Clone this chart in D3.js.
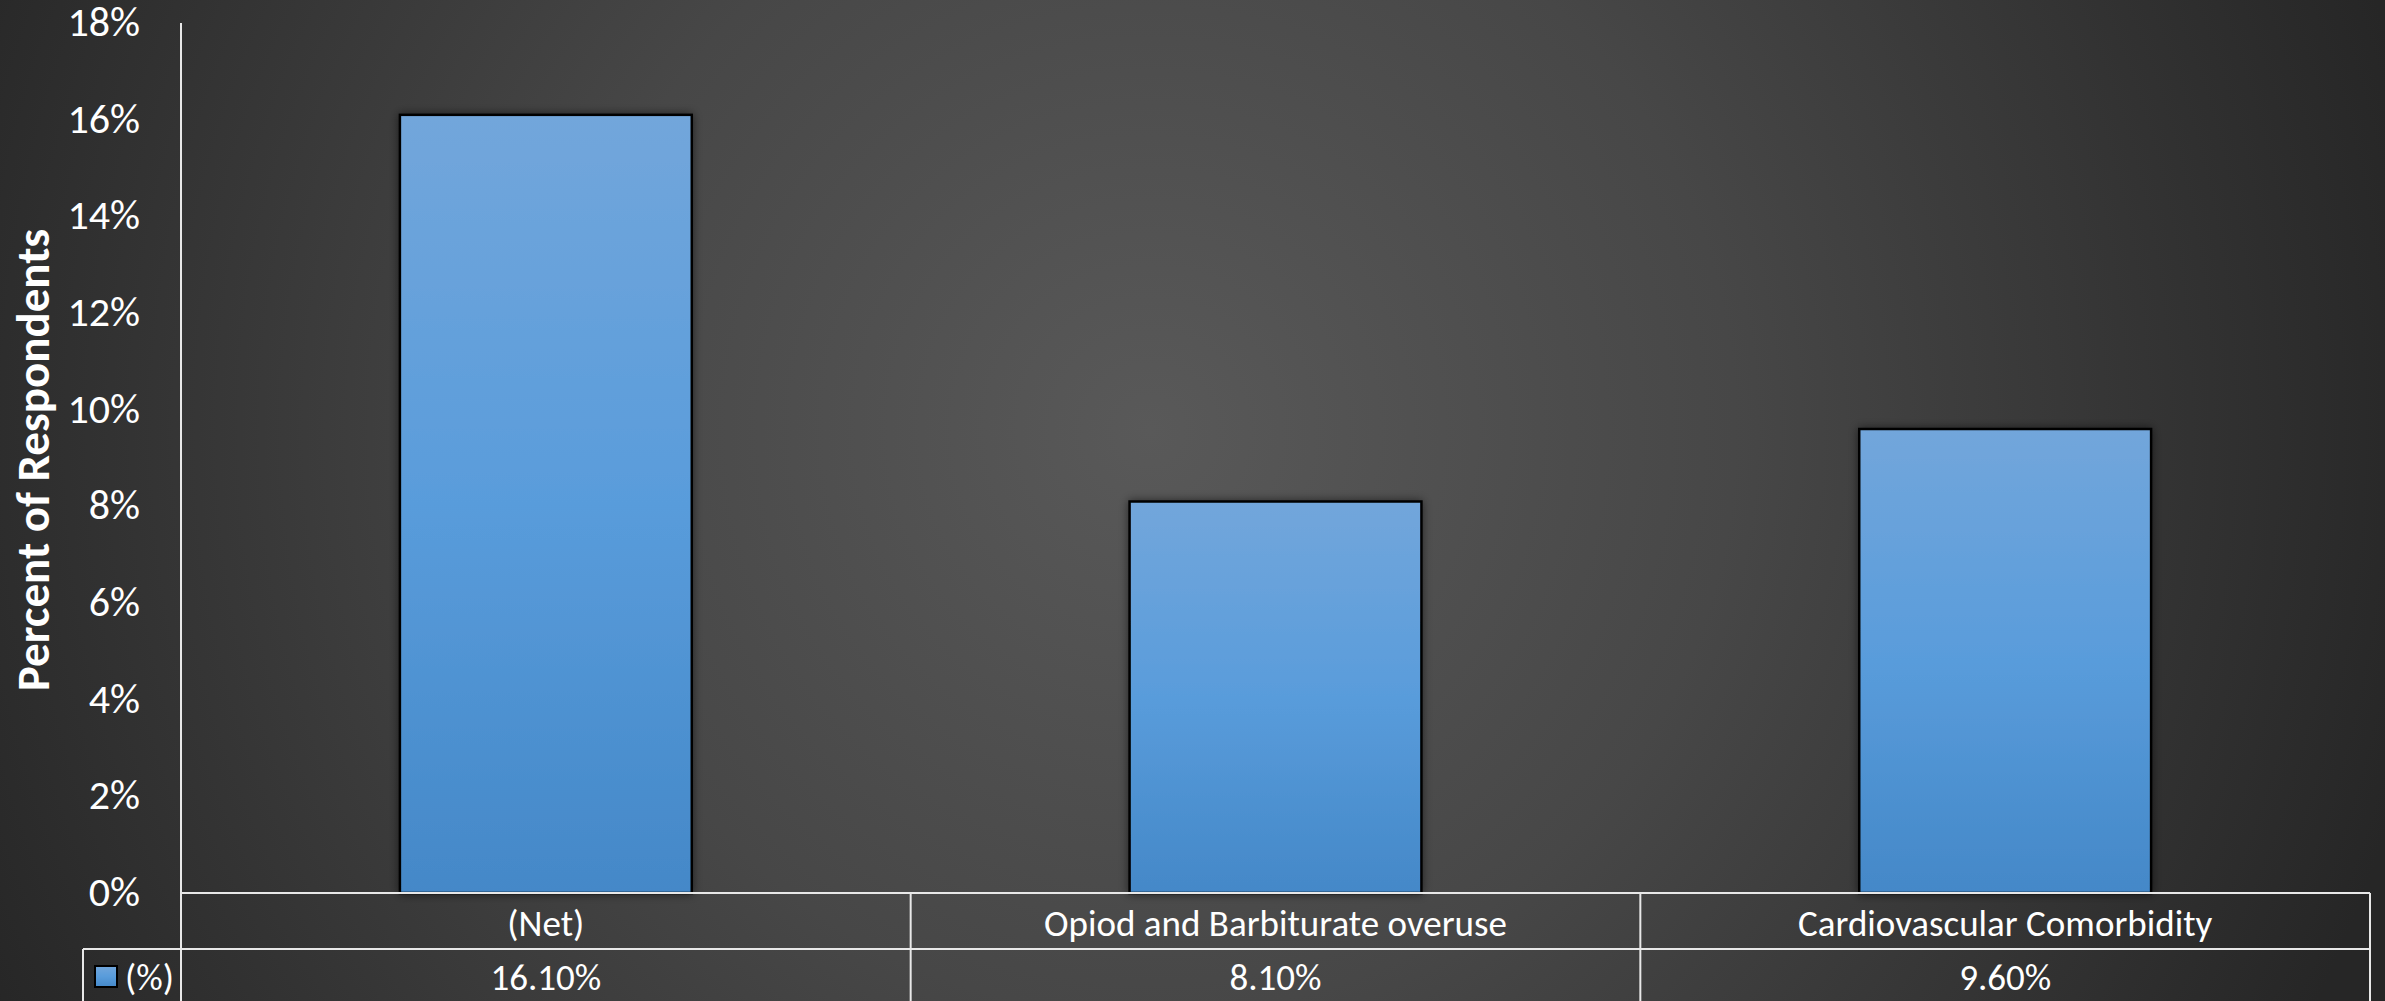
<!DOCTYPE html>
<html>
<head>
<meta charset="utf-8">
<script src="https://cdn.jsdelivr.net/npm/d3@7"></script>
<style>
  html, body { margin: 0; padding: 0; background: #2a2a2a; overflow: hidden; }
  text { font-family: Calibri, Carlito, Lato, sans-serif; fill: #ffffff; }
  .tick-label { font-size: 42px; }
  .axis-title { font-size: 47px; font-weight: bold; }
  .table-text { font-size: 37px; }
  .grid-line { stroke: #e8e8e8; stroke-width: 2; }
</style>
</head>
<body>
<svg id="chart"></svg>
<script>
// Chart data
var categories = ["(Net)", "Opiod and Barbiturate overuse", "Cardiovascular Comorbidity"];
var values = [16.1, 8.1, 9.6];
var valueLabels = ["16.10%", "8.10%", "9.60%"];
var yTicks = [0, 2, 4, 6, 8, 10, 12, 14, 16, 18];
var seriesName = "(%)";

/* Column chart with a data table under the category axis
*/
class TableBarChart {
  constructor(elemName) {
    this.width = 2385;
    this.height = 1001;

    // Plot area
    this.left = 181;
    this.right = 2370;
    this.top = 23;
    this.bottom = 893;

    // Table rows
    this.row1 = 949;
    this.row2 = 1010;
    this.legendLeft = 83;

    this.svg = d3.select(elemName)
      .attr("width", this.width)
      .attr("height", this.height);

    this.x = d3.scaleBand()
      .domain(categories)
      .range([this.left, this.right])
      .padding(0);

    this.y = d3.scaleLinear()
      .domain([0, 18])
      .range([this.bottom, this.top]);
  }

  /* Gradients and shadow
  */
  drawDefs() {
    var defs = this.svg.append("defs");

    var bg = defs.append("radialGradient")
      .attr("id", "bg-grad")
      .attr("gradientUnits", "userSpaceOnUse")
      .attr("cx", 1150).attr("cy", 430).attr("r", 1300);
    bg.append("stop").attr("offset", 0).attr("stop-color", "#595959");
    bg.append("stop").attr("offset", 0.45).attr("stop-color", "#474747");
    bg.append("stop").attr("offset", 1).attr("stop-color", "#262626");

    var bar = defs.append("linearGradient")
      .attr("id", "bar-grad")
      .attr("x1", 0).attr("y1", 0).attr("x2", 0).attr("y2", 1);
    bar.append("stop").attr("offset", 0).attr("stop-color", "#72a6db");
    bar.append("stop").attr("offset", 0.5).attr("stop-color", "#599cdb");
    bar.append("stop").attr("offset", 1).attr("stop-color", "#4488c8");

    var shadow = defs.append("filter")
      .attr("id", "bar-shadow")
      .attr("x", "-10%").attr("y", "-10%")
      .attr("width", "120%").attr("height", "120%");
    shadow.append("feDropShadow")
      .attr("dx", 0).attr("dy", 0)
      .attr("stdDeviation", 5)
      .attr("flood-color", "#000")
      .attr("flood-opacity", 0.55);
  }

  drawBackground() {
    this.svg.append("rect")
      .attr("width", this.width)
      .attr("height", this.height)
      .attr("fill", "url(#bg-grad)");
  }

  drawBars() {
    var x = this.x, y = this.y;
    var bw = x.bandwidth() * 0.4;
    this.svg.append("g")
      .attr("class", "bars")
      .selectAll("rect")
      .data(values)
      .enter()
        .append("rect")
          .attr("x", function(d, i) { return x(categories[i]) + (x.bandwidth() - bw) / 2; })
          .attr("y", function(d) { return y(d); })
          .attr("width", bw)
          .attr("height", function(d) { return y(0) - y(d); })
          .attr("fill", "url(#bar-grad)")
          .attr("stroke", "#000")
          .attr("stroke-width", 2.5)
          .attr("filter", "url(#bar-shadow)");
  }

  /* Value axis, ticks as labels only
  */
  drawYAxis() {
    var axis = d3.axisLeft(this.y)
      .tickValues(yTicks)
      .tickSize(0)
      .tickPadding(41)
      .tickFormat(function(d) { return d + "%"; });

    var g = this.svg.append("g")
      .attr("transform", `translate(${this.left},0)`)
      .call(axis);
    g.select(".domain").remove();
    g.selectAll("text")
      .attr("class", "tick-label")
      .attr("font-size", null)
      .attr("font-family", null)
      .attr("fill", null)
      .attr("dy", "0.3em");

    this.svg.append("line")
      .attr("class", "grid-line")
      .attr("x1", this.left).attr("x2", this.left)
      .attr("y1", this.top).attr("y2", this.bottom);

    this.svg.append("text")
      .attr("class", "axis-title")
      .attr("text-anchor", "middle")
      .attr("transform", `translate(33,${(this.top + this.bottom) / 2 + 2}) rotate(-90)`)
      .attr("dy", "0.35em")
      .text("Percent of Respondents");
  }

  /* Data table under the plot
  */
  drawTable() {
    var x = this.x;
    var lines = this.svg.append("g").attr("class", "table-lines");

    // horizontal rules
    lines.append("line").attr("class", "grid-line")
      .attr("x1", this.left).attr("x2", this.right)
      .attr("y1", this.bottom).attr("y2", this.bottom);
    lines.append("line").attr("class", "grid-line")
      .attr("x1", this.legendLeft).attr("x2", this.right)
      .attr("y1", this.row1).attr("y2", this.row1);

    // vertical rules
    var edges = categories.map(function(c) { return x(c); }).concat([this.right]);
    lines.selectAll(".vrule")
      .data(edges)
      .enter()
        .append("line")
          .attr("class", "grid-line vrule")
          .attr("x1", function(d) { return d; })
          .attr("x2", function(d) { return d; })
          .attr("y1", this.bottom)
          .attr("y2", this.row2);
    lines.append("line").attr("class", "grid-line")
      .attr("x1", this.legendLeft).attr("x2", this.legendLeft)
      .attr("y1", this.row1).attr("y2", this.row2);

    var rowMid1 = 923;
    var rowMid2 = 977;

    // category names
    this.svg.append("g")
      .selectAll("text")
      .data(categories)
      .enter()
        .append("text")
          .attr("class", "table-text")
          .attr("text-anchor", "middle")
          .attr("dy", "0.35em")
          .attr("x", function(d) { return x(d) + x.bandwidth() / 2; })
          .attr("y", rowMid1)
          .text(function(d) { return d; });

    // values row
    this.svg.append("g")
      .selectAll("text")
      .data(valueLabels)
      .enter()
        .append("text")
          .attr("class", "table-text")
          .attr("text-anchor", "middle")
          .attr("dy", "0.35em")
          .attr("x", function(d, i) { return x(categories[i]) + x.bandwidth() / 2; })
          .attr("y", rowMid2)
          .text(function(d) { return d; });

    // legend key
    this.svg.append("rect")
      .attr("x", 95).attr("y", rowMid2 - 11)
      .attr("width", 22).attr("height", 21)
      .attr("fill", "url(#bar-grad)")
      .attr("stroke", "#000")
      .attr("stroke-width", 2);
    this.svg.append("text")
      .attr("class", "table-text")
      .attr("dy", "0.35em")
      .attr("x", 125)
      .attr("y", rowMid2)
      .text(seriesName);
  }

  draw() {
    this.drawDefs();
    this.drawBackground();
    this.drawBars();
    this.drawYAxis();
    this.drawTable();
  }
}

var chart = new TableBarChart("#chart");
chart.draw();
</script>
</body>
</html>
